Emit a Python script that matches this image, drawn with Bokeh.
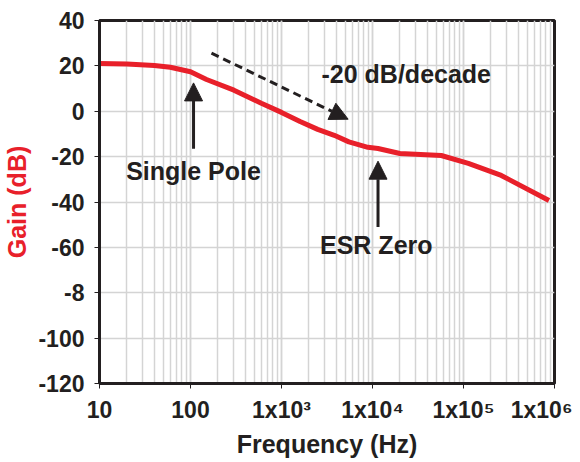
from bokeh.plotting import figure
from bokeh.models import Range1d, LogTicker, FixedTicker, Label, Arrow, NormalHead
from bokeh.embed import file_html
from bokeh.resources import INLINE

freq = [10, 20, 40, 60, 100, 150, 300, 600, 1000, 1600, 2500, 3800, 5500, 8900, 11500, 20000, 57000, 113000, 260000, 870000]
gain = [21, 20.8, 20.2, 19.4, 17.4, 14, 9.3, 3.5, -0.5, -4.5, -8, -10.6, -13.5, -15.9, -16.4, -18.6, -19.5, -23, -28.3, -39.3]

x_ticks = [10, 100, 1e3, 1e4, 1e5, 1e6]
x_tick_labels = ["10", "100", "1x10³", "1x10⁴", "1x10⁵", "1x10⁶"]
y_ticks = [40, 20, 0, -20, -40, -60, -80, -100, -120]
y_tick_labels = ["40", "20", "0", "-20", "-40", "-60", "-8", "-100", "-120"]

FONT = "Liberation Sans"
RED = "#e8202a"
INK = "#231f20"

p = figure(x_axis_type="log", width=564, height=446, frame_width=455, frame_height=363,
           min_border_left=91, min_border_right=18, min_border_top=20, min_border_bottom=63,
           output_backend="svg", toolbar_location=None,
           x_range=Range1d(10, 1e6), y_range=Range1d(-120, 40))

p.line(freq, gain, line_color=RED, line_width=5)

p.xaxis.ticker = LogTicker(desired_num_ticks=6, num_minor_ticks=10)
ov = {float(t): l for t, l in zip(x_ticks, x_tick_labels)}
ov.update({int(t): l for t, l in zip(x_ticks, x_tick_labels)})
p.xaxis.major_label_overrides = ov
p.yaxis.ticker = FixedTicker(ticks=y_ticks)
p.yaxis.major_label_overrides = {t: l for t, l in zip(y_ticks, y_tick_labels)}

for ax in (p.xaxis, p.yaxis):
    ax.axis_line_width = 3
    ax.axis_line_color = INK
    ax.major_tick_line_color = INK
    ax.major_tick_out = 5
    ax.major_tick_in = 0
    ax.minor_tick_line_color = None
    ax.major_label_text_font = FONT
    ax.major_label_text_font_style = "bold"
    ax.major_label_text_font_size = "23px"
    ax.major_label_text_color = INK
    ax.axis_label_text_font = FONT
    ax.axis_label_text_font_style = "bold"
    ax.axis_label_text_font_size = "25px"

p.xaxis.major_label_standoff = 8
p.yaxis.major_label_standoff = 10
p.xaxis.axis_label = "Frequency (Hz)"
p.xaxis.axis_label_text_color = INK
p.xaxis.axis_label_standoff = 4
p.yaxis.axis_label = "Gain (dB)"
p.yaxis.axis_label_text_color = RED
p.yaxis.axis_label_standoff = 4

p.xgrid.grid_line_color = "#d4d4d4"
p.xgrid.minor_grid_line_color = "#d4d4d4"
p.xgrid.grid_line_width = 1.5
p.xgrid.minor_grid_line_width = 1.5
p.ygrid.grid_line_color = "#d4d4d4"
p.ygrid.grid_line_width = 1.5
p.outline_line_color = INK
p.outline_line_width = 3

# annotations
p.add_layout(Arrow(end=NormalHead(size=18, fill_color=INK, line_color=INK),
                   x_start=170, y_start=25.6, x_end=5400, y_end=-3.5,
                   line_color=INK, line_width=3, line_dash="8 5"))
p.add_layout(Arrow(end=NormalHead(size=18, fill_color=INK, line_color=INK),
                   x_start=108, y_start=-16.5, x_end=108, y_end=12.5,
                   line_color=INK, line_width=3))
p.add_layout(Arrow(end=NormalHead(size=18, fill_color=INK, line_color=INK),
                   x_start=11500, y_start=-51, x_end=11500, y_end=-22,
                   line_color=INK, line_width=3))

for txt, x, y in [("Single Pole", 108, -26.5), ("ESR Zero", 11000, -59), ("-20 dB/decade", 23500, 16.5)]:
    p.add_layout(Label(x=x, y=y, text=txt, text_align="center", text_baseline="middle",
                       text_font=FONT, text_font_style="bold", text_font_size="25px",
                       text_color=INK))

open("out.html", "w").write(file_html(p, INLINE))
